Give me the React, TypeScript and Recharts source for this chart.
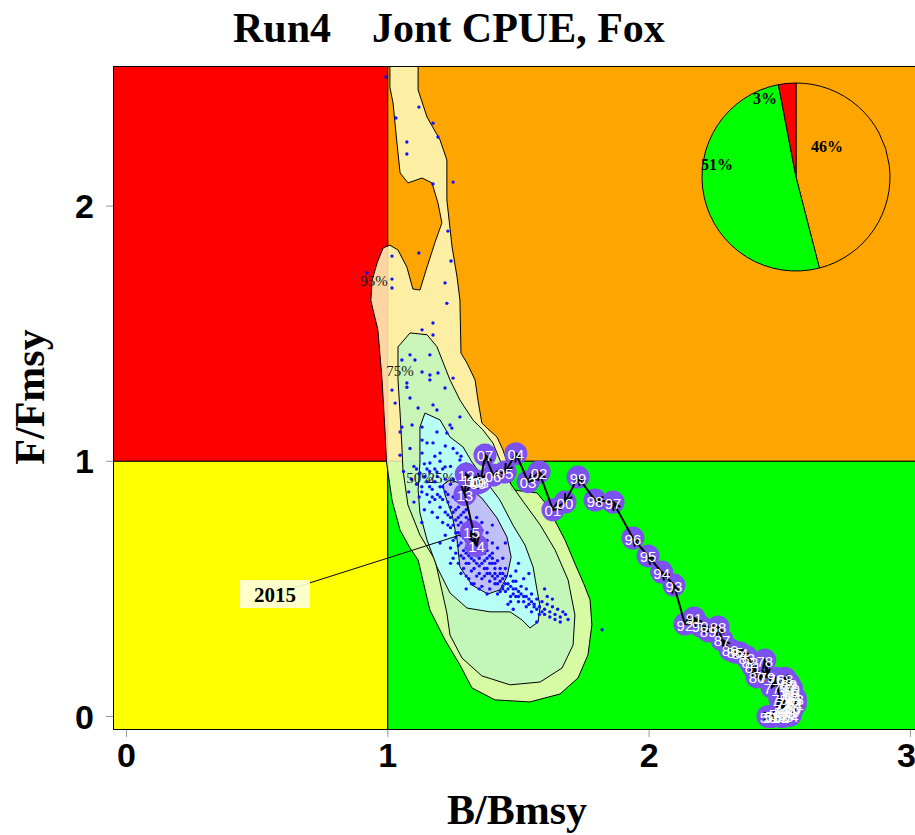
import React from "react";
import { ScatterChart, Scatter, XAxis, YAxis, PieChart, Pie, Cell } from "recharts";

// axis extents (R adds a little padding round 0..3 and 0..2.5)
const X_DOMAIN: [number, number] = [-0.0517, 3.0176];
const Y_DOMAIN: [number, number] = [-0.053, 2.549];
const xTicks = [0, 1, 2, 3];
const yTicks = [0, 1, 2];

// stock trajectory
const years = [
  1950, 1951, 1952, 1953, 1954, 1955, 1956, 1957, 1958, 1959,
  1960, 1961, 1962, 1963, 1964, 1965, 1966, 1967, 1968, 1969,
  1970, 1971, 1972, 1973, 1974, 1975, 1976, 1977, 1978, 1979,
  1980, 1981, 1982, 1983, 1984, 1985, 1986, 1987, 1988, 1989,
  1990, 1991, 1992, 1993, 1994, 1995, 1996, 1997, 1998, 1999,
  2000, 2001, 2002, 2003, 2004, 2005, 2006, 2007, 2008, 2009,
  2010, 2011, 2012, 2013, 2014, 2015,
];
const bRatio = [
  2.455, 2.47, 2.505, 2.52, 2.54, 2.475, 2.49, 2.51, 2.53, 2.545,
  2.55, 2.56, 2.555, 2.56, 2.55, 2.545, 2.54, 2.53, 2.52, 2.535,
  2.545, 2.53, 2.52, 2.515, 2.505, 2.5, 2.485, 2.47, 2.443, 2.451,
  2.413, 2.398, 2.386, 2.374, 2.348, 2.329, 2.31, 2.279, 2.264, 2.226,
  2.195, 2.172, 2.137, 2.095, 2.048, 1.996, 1.938, 1.862, 1.793, 1.728,
  1.678, 1.632, 1.579, 1.537, 1.49, 1.449, 1.403, 1.372, 1.355, 1.345,
  1.335, 1.31, 1.3, 1.295, 1.34, 1.32,
];
const fRatio = [
  0.0, 0.0, 0.0, 0.002, 0.005, 0.003, 0.01, 0.02, 0.015, 0.025,
  0.035, 0.05, 0.06, 0.07, 0.08, 0.09, 0.1, 0.12, 0.15, 0.13,
  0.11, 0.085, 0.06, 0.045, 0.03, 0.07, 0.15, 0.115, 0.221, 0.155,
  0.155, 0.194, 0.214, 0.233, 0.249, 0.253, 0.261, 0.3, 0.351, 0.335,
  0.355, 0.386, 0.362, 0.515, 0.566, 0.629, 0.699, 0.84, 0.848, 0.938,
  0.84, 0.81, 0.958, 0.92, 1.03, 0.958, 0.946, 1.025, 0.92, 0.915,
  0.925, 0.93, 0.95, 0.87, 0.67, 0.725,
];

// kernel density contours of the last-year MCMC draws
const contour95: [number, number][] = [
  [1.008, 2.56], [1.008, 2.466], [1.02, 2.404], [1.035, 2.248], [1.047, 2.13], [1.077, 2.091],
  [1.131, 2.11], [1.169, 2.091], [1.192, 2.012], [1.207, 1.934], [1.181, 1.859], [1.15, 1.761],
  [1.123, 1.671], [1.096, 1.675], [1.073, 1.761], [1.039, 1.828], [1.008, 1.847], [0.982, 1.836],
  [0.96, 1.78], [0.94, 1.71], [0.935, 1.63], [0.962, 1.515], [0.978, 1.319], [0.989, 1.123],
  [0.995, 0.997], [1.016, 0.848], [1.047, 0.73], [1.085, 0.66], [1.116, 0.613], [1.161, 0.417],
  [1.219, 0.3], [1.276, 0.202], [1.322, 0.112], [1.41, 0.065], [1.544, 0.057], [1.659, 0.088],
  [1.728, 0.151], [1.766, 0.241], [1.781, 0.359], [1.774, 0.457], [1.75, 0.52], [1.72, 0.59],
  [1.678, 0.692], [1.632, 0.782], [1.6, 0.84], [1.571, 0.876], [1.5, 0.885], [1.475, 0.888],
  [1.468, 0.927], [1.456, 0.997], [1.441, 1.044], [1.418, 1.095], [1.38, 1.13], [1.36, 1.15],
  [1.345, 1.24], [1.334, 1.319], [1.303, 1.385], [1.28, 1.424], [1.276, 1.632], [1.265, 1.722],
  [1.246, 1.84], [1.226, 2.024], [1.226, 2.181], [1.2, 2.259], [1.15, 2.349], [1.116, 2.455],
  [1.116, 2.56],
];
const contour75: [number, number][] = [
  [1.085, 1.503], [1.15, 1.496], [1.188, 1.449], [1.238, 1.319], [1.276, 1.24], [1.326, 1.162],
  [1.364, 1.123], [1.402, 1.072], [1.429, 1.005], [1.46, 0.927], [1.514, 0.848], [1.583, 0.751],
  [1.64, 0.653], [1.69, 0.535], [1.716, 0.398], [1.709, 0.28], [1.667, 0.19], [1.583, 0.135],
  [1.468, 0.124], [1.36, 0.159], [1.284, 0.229], [1.238, 0.319], [1.226, 0.406], [1.181, 0.613],
  [1.123, 0.711], [1.077, 0.829], [1.058, 0.966], [1.054, 1.056], [1.047, 1.189], [1.039, 1.319],
  [1.039, 1.448],
];
const contour50: [number, number][] = [
  [1.142, 1.189], [1.2, 1.162], [1.238, 1.095], [1.288, 1.056], [1.322, 0.997], [1.372, 0.927],
  [1.429, 0.848], [1.479, 0.75], [1.525, 0.672], [1.556, 0.586], [1.571, 0.496], [1.583, 0.429],
  [1.575, 0.37], [1.544, 0.347], [1.514, 0.378], [1.468, 0.41], [1.391, 0.41], [1.303, 0.425],
  [1.238, 0.484], [1.188, 0.586], [1.15, 0.692], [1.123, 0.797], [1.116, 0.888], [1.123, 0.997],
  [1.123, 1.134],
];
const contour25: [number, number][] = [
  [1.238, 0.927], [1.295, 0.908], [1.36, 0.856], [1.418, 0.778], [1.456, 0.703], [1.472, 0.625],
  [1.456, 0.547], [1.429, 0.496], [1.383, 0.48], [1.322, 0.515], [1.276, 0.586], [1.265, 0.692],
  [1.246, 0.79], [1.219, 0.868], [1.211, 0.908],
];
const contourLabels = [
  { x: 0.947, y: 1.706, text: "95%" },
  { x: 1.047, y: 1.353, text: "75%" },
  { x: 1.123, y: 0.935, text: "50%" },
  { x: 1.205, y: 0.935, text: "25%" },
];

// MCMC draws (B/Bmsy, F/Fmsy)
const mcmcDraws: [number, number][] = [
  [0.993, 2.506], [1.119, 2.388], [1.031, 2.345], [1.173, 2.325], [1.192, 2.271], [1.073, 2.251],
  [1.073, 2.204], [1.25, 2.094], [1.173, 2.087], [1.23, 1.902], [1.119, 1.816], [1.242, 1.785],
  [1.016, 1.804], [1.016, 1.714], [1.219, 1.699], [1.016, 1.679], [0.92, 1.738],
  [1.226, 1.619], [1.173, 1.542], [1.131, 1.515], [1.173, 1.495], [1.085, 1.417], [1.161, 1.417],
  [1.054, 1.397], [1.104, 1.397], [1.131, 1.35], [1.192, 1.346], [1.161, 1.338], [1.25, 1.326],
  [1.016, 1.279], [1.073, 1.307], [1.161, 1.319], [1.219, 1.287], [1.073, 1.29], [1.085, 1.248],
  [1.028, 1.228], [1.173, 1.221], [1.188, 1.201], [1.116, 1.209], [1.276, 1.174], [1.054, 1.134],
  [1.093, 1.142], [1.131, 1.134], [1.238, 1.142], [1.245, 1.13], [1.15, 1.072], [1.188, 1.115],
  [1.047, 1.115], [1.131, 1.083], [1.173, 1.072], [1.226, 1.111], [1.131, 1.032], [1.2, 1.032],
  [1.047, 1.024], [1.085, 1.05], [1.276, 1.005], [1.265, 1.032], [1.161, 0.993], [1.188, 0.958],
  [1.123, 0.954], [1.219, 0.978], [1.25, 1.05], [1.28, 1.02], [1.3, 0.99], [1.27, 0.95],
  [1.24, 0.98], [1.2, 1.0], [1.18, 1.02], [1.22, 1.06],
  [1.1, 0.98], [1.12, 0.95], [1.14, 0.99], [1.16, 0.96], [1.11, 0.91], [1.13, 0.88],
  [1.15, 0.92], [1.17, 0.89], [1.19, 0.94], [1.21, 0.97], [1.18, 0.85], [1.2, 0.82],
  [1.22, 0.88], [1.24, 0.91], [1.16, 0.84], [1.14, 0.81], [1.23, 0.84], [1.25, 0.86],
  [1.27, 0.89], [1.26, 0.81], [1.19, 0.78], [1.21, 0.76], [1.23, 0.79], [1.17, 0.8],
  [1.12, 0.86], [1.09, 0.93], [1.28, 0.84], [1.24, 0.74], [1.26, 0.77], [1.28, 0.79],
  [1.3, 0.81], [1.22, 0.71], [1.25, 0.69], [1.27, 0.72], [1.29, 0.75], [1.31, 0.77],
  [1.27, 0.67], [1.29, 0.7], [1.3, 0.66], [1.32, 0.69], [1.33, 0.72], [1.31, 0.63],
  [1.34, 0.66], [1.35, 0.7], [1.28, 0.63], [1.3, 0.6], [1.33, 0.61], [1.36, 0.64],
  [1.37, 0.67], [1.38, 0.62], [1.35, 0.59], [1.32, 0.57], [1.34, 0.55], [1.37, 0.58],
  [1.39, 0.6], [1.4, 0.64], [1.41, 0.58], [1.36, 0.54], [1.38, 0.56], [1.42, 0.61],
  [1.43, 0.56], [1.39, 0.53], [1.41, 0.52], [1.44, 0.54], [1.45, 0.58], [1.4, 0.68],
  [1.36, 0.73], [1.29, 0.58], [1.26, 0.64], [1.31, 0.54], [1.33, 0.52], [1.35, 0.5],
  [1.28, 0.71], [1.3, 0.73], [1.32, 0.75], [1.34, 0.78], [1.36, 0.76], [1.38, 0.72],
  [1.42, 0.66], [1.44, 0.62], [1.31, 0.71], [1.32, 0.68], [1.33, 0.7], [1.3, 0.69],
  [1.34, 0.69], [1.33, 0.65], [1.31, 0.66],
  [1.46, 0.52], [1.47, 0.55], [1.48, 0.5], [1.49, 0.53], [1.5, 0.49], [1.51, 0.51],
  [1.52, 0.47], [1.53, 0.5], [1.47, 0.47], [1.45, 0.49], [1.5, 0.45], [1.54, 0.46],
  [1.55, 0.48], [1.56, 0.44], [1.52, 0.54], [1.49, 0.57], [1.44, 0.5], [1.42, 0.48],
  [1.46, 0.44], [1.53, 0.43],
  [1.57, 0.46], [1.58, 0.43], [1.59, 0.45], [1.6, 0.42], [1.61, 0.44], [1.62, 0.41],
  [1.63, 0.43], [1.64, 0.4], [1.65, 0.42], [1.66, 0.39], [1.67, 0.41], [1.69, 0.38],
  [1.58, 0.4], [1.61, 0.47], [1.55, 0.41], [1.63, 0.46], [1.68, 0.4], [1.82, 0.34],
  [1.06, 0.96], [1.08, 0.88], [1.1, 0.84], [1.13, 0.76], [1.2, 0.68], [1.24, 0.6],
  [1.3, 0.5], [1.38, 0.48], [1.48, 0.42], [1.57, 0.37], [1.4, 0.75], [1.45, 0.68],
  [1.5, 0.6], [1.54, 0.56], [1.6, 0.5],
  [1.26, 0.72], [1.27, 0.75], [1.28, 0.68], [1.29, 0.65], [1.29, 0.62], [1.3, 0.64],
  [1.3, 0.71], [1.31, 0.6], [1.31, 0.69], [1.32, 0.62], [1.32, 0.64], [1.32, 0.72],
  [1.33, 0.58], [1.33, 0.67], [1.33, 0.74], [1.34, 0.6], [1.34, 0.63], [1.34, 0.71],
  [1.35, 0.56], [1.35, 0.62], [1.35, 0.65], [1.35, 0.68], [1.36, 0.6], [1.36, 0.66],
  [1.36, 0.69], [1.37, 0.55], [1.37, 0.61], [1.37, 0.64], [1.38, 0.58], [1.38, 0.65],
  [1.38, 0.69], [1.39, 0.56], [1.39, 0.63], [1.4, 0.55], [1.4, 0.6], [1.4, 0.62],
  [1.41, 0.54], [1.41, 0.56], [1.41, 0.6], [1.42, 0.52], [1.42, 0.55], [1.43, 0.53],
  [1.43, 0.58], [1.44, 0.51], [1.44, 0.56], [1.45, 0.52], [1.45, 0.55], [1.46, 0.5],
  [1.47, 0.51], [1.48, 0.48], [1.48, 0.53], [1.49, 0.47], [1.49, 0.5], [1.5, 0.47],
  [1.51, 0.48], [1.52, 0.45], [1.53, 0.47], [1.54, 0.44], [1.55, 0.45], [1.56, 0.43],
  [1.57, 0.42], [1.59, 0.41], [1.6, 0.4], [1.62, 0.39], [1.64, 0.38], [1.66, 0.37],
  [1.2, 0.9], [1.21, 0.85], [1.22, 0.8], [1.22, 0.93], [1.23, 0.87], [1.23, 0.75],
  [1.24, 0.82], [1.24, 0.78], [1.25, 0.8], [1.25, 0.75], [1.25, 0.93], [1.26, 0.85],
  [1.26, 0.7], [1.27, 0.82], [1.27, 0.78], [1.28, 0.86], [1.28, 0.76], [1.29, 0.8],
  [1.29, 0.72], [1.3, 0.78], [1.3, 0.86], [1.18, 0.92], [1.17, 0.86], [1.15, 0.87],
  [1.16, 0.9], [1.19, 0.87], [1.2, 0.86], [1.21, 0.9], [1.13, 0.9], [1.14, 0.94],
  [1.18, 0.97], [1.15, 0.97], [1.11, 0.97],
  [1.24, 0.66], [1.25, 0.62], [1.27, 0.6], [1.28, 0.56], [1.3, 0.55], [1.32, 0.52],
  [1.36, 0.51], [1.39, 0.5], [1.43, 0.49], [1.47, 0.45],
];

// inset pie: share of draws per quadrant
const pieNames = ["orange", "green", "red"];
const pieValues = [46, 51, 3];
const pieColors = ["#FFA500", "#00FF00", "#FF0000"];
const pieLabelOffsets = [
  [31, -31],
  [-79, -13],
  [-31, -79],
];

const lastLabelAnchor = { x: 0.568, y: 0.48 };

const SERIF = "'Liberation Serif', 'Times New Roman', serif";
const SANS = "'Liberation Sans', Arial, sans-serif";

const toXY = (pts: [number, number][]) => pts.map(([x, y]) => ({ x, y }));

const noShape = () => <g />;

const polygonLine =
  (fill: string, fillOpacity = 1, strokeWidth = 1) =>
  (props: any) => {
    const pts = props.points as { x: number; y: number }[];
    const d = pts.map((p, i) => `${i ? "L" : "M"}${p.x},${p.y}`).join("") + "Z";
    return <path d={d} fill={fill} fillOpacity={fillOpacity} stroke="#000" strokeWidth={strokeWidth} />;
  };

const arrowLine = (props: any) => {
  const [a, b] = props.points as { x: number; y: number }[];
  return (
    <path
      d={`M${a.x},${a.y}L${b.x},${b.y}`}
      stroke="#000"
      strokeWidth={2}
      fill="none"
      markerEnd="url(#kobeArrow)"
    />
  );
};

const plainLine = (props: any) => {
  const pts = props.points as { x: number; y: number }[];
  const d = pts.map((p, i) => `${i ? "L" : "M"}${p.x},${p.y}`).join("");
  return <path d={d} stroke="#000" strokeWidth={1} fill="none" />;
};

export default function App() {
  const [x0] = X_DOMAIN;
  const [y0, y1] = Y_DOMAIN;
  const xr = X_DOMAIN[1] + 0.1; // run past the right edge, the picture is cut there
  const zones = [
    { fill: "#FF0000", pts: [[x0, 1], [1, 1], [1, y1], [x0, y1]] as [number, number][] },
    { fill: "#FFA500", pts: [[1, 1], [xr, 1], [xr, y1], [1, y1]] as [number, number][] },
    { fill: "#FFFF00", pts: [[x0, y0], [1, y0], [1, 1], [x0, 1]] as [number, number][] },
    { fill: "#00FF00", pts: [[1, y0], [xr, y0], [xr, 1], [1, 1]] as [number, number][] },
  ];
  const contours = [
    { pts: contour95, fill: "#FCFAC0" },
    { pts: contour75, fill: "#BFF6BC" },
    { pts: contour50, fill: "#B5FFFF" },
    { pts: contour25, fill: "#C1B5F8" },
  ];
  const traj = years.map((yr, i) => ({
    x: bRatio[i],
    y: fRatio[i],
    label: String(yr % 100).padStart(2, "0"),
  }));
  const segments = traj.slice(1).map((p, i) => [traj[i], p]);
  const last = traj[traj.length - 1];
  const pieData = pieValues.map((v, i) => ({ name: pieNames[i], value: v }));

  return (
    <div style={{ position: "absolute", left: 0, top: 0, width: 915, height: 835, background: "#fff" }}>
      <ScatterChart width={915} height={835} margin={{ top: 66, right: 0, bottom: 0, left: 0 }}>
        <XAxis
          type="number"
          dataKey="x"
          domain={X_DOMAIN}
          allowDataOverflow
          ticks={xTicks}
          height={105}
          axisLine={false}
          tickLine={{ stroke: "#999" }}
          tickSize={7}
          tickMargin={6}
          tick={{ fill: "#000", fontSize: 34, fontWeight: "bold", fontFamily: SANS }}
        />
        <YAxis
          type="number"
          dataKey="y"
          domain={Y_DOMAIN}
          allowDataOverflow
          ticks={yTicks}
          width={113}
          axisLine={false}
          tickLine={{ stroke: "#999" }}
          tickSize={7}
          tickMargin={12}
          tick={{ fill: "#000", fontSize: 34, fontWeight: "bold", fontFamily: SANS }}
        />
        {zones.map((z, i) => (
          <Scatter
            key={`zone-${i}`}
            data={toXY(z.pts)}
            line={polygonLine(z.fill)}
            shape={noShape}
            isAnimationActive={false}
          />
        ))}
        {contours.map((c, i) => (
          <Scatter
            key={`contour-${i}`}
            data={toXY(c.pts)}
            line={polygonLine(c.fill, 0.85)}
            shape={noShape}
            isAnimationActive={false}
          />
        ))}
        <Scatter
          data={toXY(mcmcDraws)}
          shape={(p: any) => <circle cx={p.cx} cy={p.cy} r={1.7} fill="#1010FF" />}
          isAnimationActive={false}
        />
        <Scatter
          data={contourLabels}
          shape={(p: any) => (
            <text
              x={p.cx}
              y={p.cy}
              textAnchor="middle"
              dominantBaseline="central"
              fontSize={15}
              fontFamily={SERIF}
              fill="#1a1a1a"
            >
              {p.payload.text}
            </text>
          )}
          isAnimationActive={false}
        />
        <Scatter
          data={[lastLabelAnchor, { x: last.x, y: last.y }]}
          line={plainLine}
          shape={noShape}
          isAnimationActive={false}
        />
        <Scatter
          data={[lastLabelAnchor]}
          shape={(p: any) => (
            <g>
              <rect x={p.cx - 35} y={p.cy - 14} width={70} height={28} fill="#FFFFE0" fillOpacity={0.9} />
              <text
                x={p.cx}
                y={p.cy + 1}
                textAnchor="middle"
                dominantBaseline="central"
                fontSize={21}
                fontWeight="bold"
                fontFamily={SERIF}
                fill="#000"
              >
                {years[years.length - 1]}
              </text>
            </g>
          )}
          isAnimationActive={false}
        />
        <Scatter
          data={traj}
          shape={(p: any) => <circle cx={p.cx} cy={p.cy} r={11.5} fill="#7B52F0" />}
          isAnimationActive={false}
        />
        {segments.map((s, i) => (
          <Scatter key={`seg-${i}`} data={s} line={arrowLine} shape={noShape} isAnimationActive={false} />
        ))}
        <Scatter
          data={traj}
          shape={(p: any) => (
            <text
              x={p.cx}
              y={p.cy + 1}
              textAnchor="middle"
              dominantBaseline="central"
              fontSize={15}
              fontFamily={SANS}
              fill="#fff"
            >
              {p.payload.label}
            </text>
          )}
          isAnimationActive={false}
        />
        <Scatter
          data={toXY([[x0, y0], [xr, y0], [xr, y1], [x0, y1]])}
          line={polygonLine("none", 1, 2)}
          shape={noShape}
          isAnimationActive={false}
        />
      </ScatterChart>

      <div style={{ position: "absolute", left: 696, top: 77, width: 200, height: 200 }}>
        <PieChart width={200} height={200} margin={{ top: 0, right: 0, bottom: 0, left: 0 }}>
          <Pie
            data={pieData}
            dataKey="value"
            cx={100}
            cy={100}
            outerRadius={94}
            startAngle={90}
            endAngle={-270}
            stroke="#000"
            strokeWidth={1}
            labelLine={false}
            isAnimationActive={false}
            label={(p: any) => (
              <text
                x={p.cx + pieLabelOffsets[p.index][0]}
                y={p.cy + pieLabelOffsets[p.index][1]}
                textAnchor="middle"
                dominantBaseline="central"
                fontSize={16}
                fontWeight="bold"
                fontFamily={SERIF}
                fill="#000"
              >
                {`${pieValues[p.index]}%`}
              </text>
            )}
          >
            {pieData.map((d, i) => (
              <Cell key={d.name} fill={pieColors[i]} />
            ))}
          </Pie>
        </PieChart>
      </div>

      <svg
        width={915}
        height={835}
        style={{ position: "absolute", left: 0, top: 0, pointerEvents: "none" }}
      >
        <defs>
          <marker
            id="kobeArrow"
            markerWidth={12}
            markerHeight={12}
            refX={10}
            refY={6}
            orient="auto"
            markerUnits="userSpaceOnUse"
          >
            <path d="M2,2 L10,6 L2,10" fill="none" stroke="#000" strokeWidth={2} />
          </marker>
        </defs>
        <text x={233} y={42} fontSize={42} fontWeight="bold" fontFamily={SERIF} fill="#000">
          Run4
        </text>
        <text x={372} y={42} fontSize={42} fontWeight="bold" fontFamily={SERIF} fill="#000">
          Jont CPUE, Fox
        </text>
        <text x={517} y={824} textAnchor="middle" fontSize={42} fontWeight="bold" fontFamily={SERIF} fill="#000">
          B/Bmsy
        </text>
        <text
          x={-397}
          y={44}
          transform="rotate(-90)"
          textAnchor="middle"
          fontSize={42}
          fontWeight="bold"
          fontFamily={SERIF}
          fill="#000"
        >
          F/Fmsy
        </text>
      </svg>
    </div>
  );
}
